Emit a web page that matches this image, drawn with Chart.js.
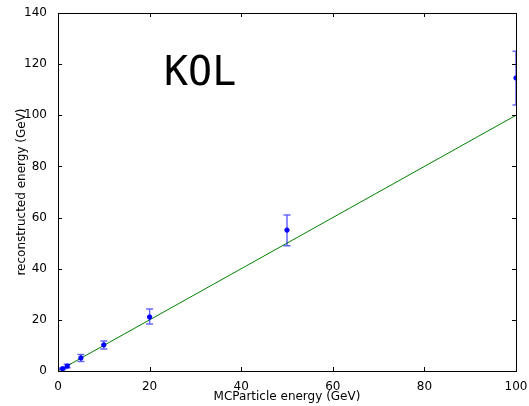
<!DOCTYPE html>
<html>
<head>
<meta charset="utf-8">
<script src="https://cdn.jsdelivr.net/npm/chart.js@4.4.0/dist/chart.umd.min.js"></script>
<style>
  html, body { margin: 0; padding: 0; background: #fff; }
  canvas { display: block; }
</style>
</head>
<body>
<canvas id="graph1" width="529" height="406"></canvas>
<script>
// énergie MC (GeV) et énergie reconstruite
var mc_energy = [1, 2, 5, 10, 20, 50, 100];
var reco_energy = [0.9, 1.9, 5.1, 10.2, 21.1, 55.1, 114.6];
var err_up = [1.2, 2.6, 6.5, 11.7, 24.2, 61, 125];
var err_down = [0.6, 1.3, 3.7, 8.6, 18.4, 49, 104];

// droite y = x
var line_x = [0, 100];
var line_y = [0, 100];

var x_ticks = [0, 20, 40, 60, 80, 100];
var y_ticks = [0, 20, 40, 60, 80, 100, 120, 140];

var pts = [];
for (let i = 0; i < mc_energy.length; i++) {
    pts.push({x: mc_energy[i], y: reco_energy[i]});
}
var line_pts = [];
for (let i = 0; i < line_x.length; i++) {
    line_pts.push({x: line_x[i], y: line_y[i]});
}

// barres d'erreur + cadre + ticks vers l'intérieur + texte
var errorBars = {
    id: "errorBars",
    afterDatasetsDraw(chart) {
        let ctx = chart.ctx;
        let a = chart.chartArea;
        let xs = chart.scales.x, ys = chart.scales.y;
        ctx.save();
        ctx.beginPath();
        ctx.rect(a.left, a.top, a.right - a.left, a.bottom - a.top);
        ctx.clip();
        ctx.strokeStyle = "rgba(0, 0, 255, 0.6)";
        ctx.lineWidth = 1.5;
        for (let i = 0; i < mc_energy.length; i++) {
            let px = xs.getPixelForValue(mc_energy[i]);
            let top = ys.getPixelForValue(err_up[i]);
            let bot = ys.getPixelForValue(err_down[i]);
            ctx.beginPath();
            ctx.moveTo(px, top); ctx.lineTo(px, bot);
            ctx.moveTo(px - 3.5, top); ctx.lineTo(px + 3.5, top);
            ctx.moveTo(px - 3.5, bot); ctx.lineTo(px + 3.5, bot);
            ctx.stroke();
        }
        ctx.restore();
    },
    afterDraw(chart) {
        let ctx = chart.ctx;
        let a = chart.chartArea;
        let xs = chart.scales.x, ys = chart.scales.y;
        ctx.save();
        ctx.strokeStyle = "#000";
        ctx.lineWidth = 1;
        ctx.beginPath();
        for (let v of x_ticks) {
            let px = Math.round(xs.getPixelForValue(v)) + 0.5;
            ctx.moveTo(px, a.bottom); ctx.lineTo(px, a.bottom - 4);
            ctx.moveTo(px, a.top); ctx.lineTo(px, a.top + 4);
        }
        for (let v of y_ticks) {
            let py = Math.round(ys.getPixelForValue(v)) + 0.5;
            ctx.moveTo(a.left, py); ctx.lineTo(a.left + 4, py);
            ctx.moveTo(a.right, py); ctx.lineTo(a.right - 4, py);
        }
        ctx.stroke();
        ctx.strokeRect(Math.round(a.left) + 0.5, Math.round(a.top) + 0.5,
                       Math.round(a.right - a.left), Math.round(a.bottom - a.top));
        ctx.fillStyle = "#000";
        ctx.font = "40px 'DejaVu Sans Mono'";
        ctx.textBaseline = "alphabetic";
        ctx.fillText("KOL", 164, 85);
        ctx.restore();
    }
};

var ctx = document.getElementById("graph1").getContext("2d");
const myChart = new Chart(ctx, {
    type: "scatter",
    data: {
        datasets: [
            {
                data: line_pts,
                showLine: true,
                borderColor: "#008000",
                borderWidth: 1,
                pointRadius: 0,
                clip: 0,
                order: 2
            },
            {
                data: pts,
                backgroundColor: "#0000ff",
                borderColor: "#0000ff",
                pointRadius: 2.2,
                clip: 0,
                order: 1
            }
        ]
    },
    options: {
        responsive: false,
        animation: false,
        layout: { padding: { top: 13, right: 13, left: 15, bottom: 0 } },
        plugins: {
            legend: { display: false },
            tooltip: { enabled: false }
        },
        scales: {
            x: {
                type: "linear",
                min: 0, max: 100,
                grid: { display: false },
                border: { display: false },
                ticks: { stepSize: 20, color: "#000", font: { family: "DejaVu Sans", size: 12 }, padding: 1, maxRotation: 0 },
                title: { display: true, text: "MCParticle energy (GeV)", color: "#000", font: { family: "DejaVu Sans", size: 12 }, padding: { top: 0, bottom: 2 } },
                afterFit: function(scale) { scale.height = 35; }
            },
            y: {
                type: "linear",
                min: 0, max: 140,
                grid: { display: false },
                border: { display: false },
                ticks: { stepSize: 20, color: "#000", font: { family: "DejaVu Sans", size: 12 }, padding: 3 },
                title: { display: true, text: "reconstructed energy (GeV)", color: "#000", font: { family: "DejaVu Sans", size: 12 }, padding: { top: 0, bottom: 2 } },
                afterFit: function(scale) { scale.width = 43; }
            }
        }
    },
    plugins: [errorBars]
});
</script>
</body>
</html>
